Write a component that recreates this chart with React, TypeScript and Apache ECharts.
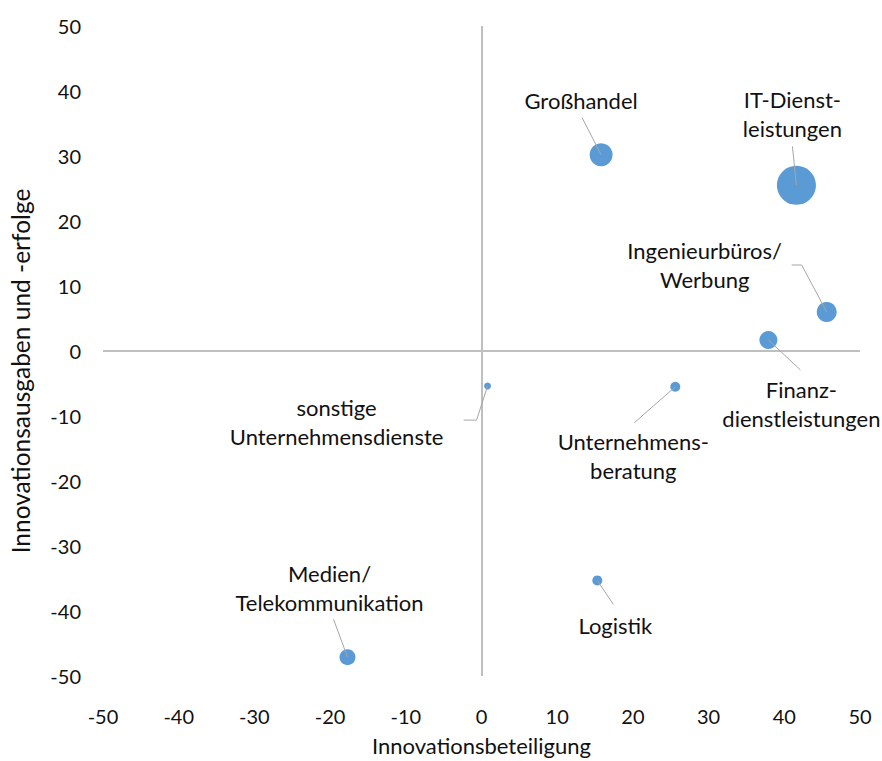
import React, { useEffect, useRef } from "react";
import * as echarts from "echarts";

// ---- data ----
const sectors = [
  "Großhandel",
  "IT-Dienst-\nleistungen",
  "Ingenieurbüros/\nWerbung",
  "Finanz-\ndienstleistungen",
  "sonstige\nUnternehmensdienste",
  "Unternehmens-\nberatung",
  "Logistik",
  "Medien/\nTelekommunikation",
];
const innovationsbeteiligung = [15.8, 41.6, 45.6, 37.9, 0.8, 25.6, 15.3, -17.7];
const innovationsausgaben = [30.2, 25.5, 6.0, 1.7, -5.4, -5.5, -35.3, -47.1];
const bubbleSizes = [132, 380, 100, 81, 12, 25, 25, 64];

const axisMin = -50;
const axisMax = 50;
const axisInterval = 10;

// ---- label layout (pixel offsets from bubble centre) ----
const labelOffsets: number[][] = [
  [-20, -54],
  [-4, -71],
  [-122, -47],
  [33, 64],
  [-151, 36],
  [-42, 69],
  [18, 45],
  [-18, -69],
];
const leaderPoints: number[][][] = [
  [[-19, -37]],
  [[-4, -39]],
  [[-25, -47], [-35, -47]],
  [[32, 30]],
  [[-11, 34], [-24, 34]],
  [[-41, 36]],
  [[16, 24]],
  [[-14, -38]],
];

const FONT = "Lato, 'Noto Sans', sans-serif";
const TEXT = "#111111";
const BLUE = "#5b9bd5";

export default function App() {
  const ref = useRef<HTMLDivElement>(null);
  useEffect(() => {
    if (!ref.current) return;
    const chart = echarts.init(ref.current, undefined, { renderer: "svg" });
    const points = sectors.map((name, i) => [
      innovationsbeteiligung[i],
      innovationsausgaben[i],
      bubbleSizes[i],
      i,
    ]);
    chart.setOption({
      animation: false,
      backgroundColor: "#ffffff",
      textStyle: { fontFamily: FONT },
      grid: { left: 102, right: 22, top: 26, bottom: 83 },
      xAxis: {
        type: "value",
        min: axisMin,
        max: axisMax,
        interval: axisInterval,
        axisLine: { show: false },
        axisTick: { show: false },
        splitLine: { show: false },
        axisLabel: { color: TEXT, fontSize: 20, fontFamily: FONT, margin: 30 },
        name: "Innovationsbeteiligung",
        nameLocation: "middle",
        nameGap: 58,
        nameTextStyle: { color: TEXT, fontSize: 22, fontFamily: FONT },
      },
      yAxis: {
        type: "value",
        min: axisMin,
        max: axisMax,
        interval: axisInterval,
        axisLine: { show: false },
        axisTick: { show: false },
        splitLine: { show: false },
        axisLabel: { color: TEXT, fontSize: 20, fontFamily: FONT, margin: 22 },
        name: "Innovationsausgaben und -erfolge",
        nameLocation: "middle",
        nameGap: 70,
        nameRotate: 90,
        nameTextStyle: {
          color: TEXT,
          fontSize: 24.5,
          fontFamily: FONT,
          padding: [0, 40, 0, 0],
        },
      },
      series: [
        {
          type: "scatter",
          data: points,
          symbolSize: (v: number[]) => 2 * Math.sqrt(v[2]),
          itemStyle: { color: BLUE, opacity: 1 },
          z: 3,
          markLine: {
            silent: true,
            symbol: "none",
            label: { show: false },
            lineStyle: { color: "#bfbfbf", width: 2, type: "solid" },
            data: [{ xAxis: 0 }, { yAxis: 0 }],
            z: 1,
          },
        },
        {
          type: "custom",
          data: points,
          z: 4,
          renderItem: (params: any, api: any) => {
            const i = api.value(3);
            const c = api.coord([api.value(0), api.value(1)]);
            const pts = [[c[0], c[1]], ...leaderPoints[i].map((p) => [c[0] + p[0], c[1] + p[1]])];
            return {
              type: "group",
              children: [
                {
                  type: "polyline",
                  shape: { points: pts },
                  style: { stroke: "#a6a6a6", lineWidth: 1, fill: null },
                  silent: true,
                },
                {
                  type: "text",
                  x: c[0] + labelOffsets[i][0],
                  y: c[1] + labelOffsets[i][1],
                  style: {
                    text: sectors[i],
                    fill: TEXT,
                    font: `22px ${FONT}`,
                    align: "center",
                    verticalAlign: "middle",
                    lineHeight: 29,
                  },
                },
              ],
            };
          },
        },
      ],
    });
    return () => chart.dispose();
  }, []);
  return (
    <div
      ref={ref}
      style={{ position: "fixed", left: 0, top: 0, width: 882, height: 761 }}
    />
  );
}
